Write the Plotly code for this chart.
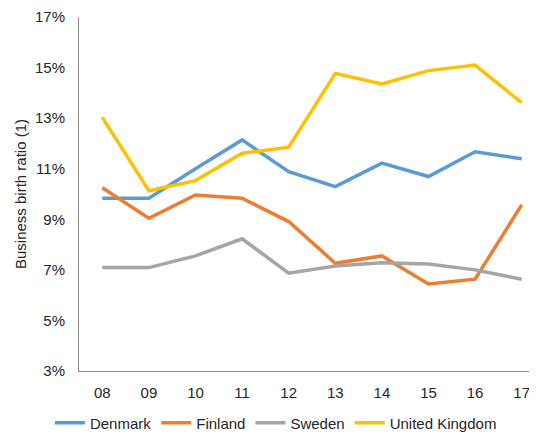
import plotly.graph_objects as go

years = ["08", "09", "10", "11", "12", "13", "14", "15", "16", "17"]
denmark = [9.83, 9.83, 11.0, 12.14, 10.88, 10.29, 11.22, 10.69, 11.67, 11.39]
finland = [10.25, 9.04, 9.96, 9.83, 8.91, 7.26, 7.55, 6.44, 6.63, 9.57]
sweden = [7.09, 7.09, 7.55, 8.23, 6.87, 7.15, 7.28, 7.23, 7.0, 6.63]
uk = [13.03, 10.13, 10.53, 11.61, 11.85, 14.77, 14.35, 14.88, 15.10, 13.61]

series = [
    ("Denmark", denmark, "#5B9BD5"),
    ("Finland", finland, "#ED7D31"),
    ("Sweden", sweden, "#A5A5A5"),
    ("United Kingdom", uk, "#FFC000"),
]

fig = go.Figure()
for name, vals, color in series:
    fig.add_trace(go.Scatter(
        x=years, y=vals, name=name, mode="lines",
        line=dict(color=color, width=3.5),
    ))

# page body adds an 8px offset, margins below account for it
axis_font = dict(family="Liberation Sans, Arial", size=15, color="#262626")
fig.update_layout(
    width=537, height=435,
    margin=dict(l=71, r=0, t=9, b=72),
    plot_bgcolor="white", paper_bgcolor="white",
    font=axis_font,
    showlegend=True,
    legend=dict(
        orientation="h", xref="container", yref="container",
        x=0.078, xanchor="left", y=0.084, yanchor="top",
        font=axis_font, tracegroupgap=0,
    ),
    xaxis=dict(
        type="category", range=[-0.5, 9.5], automargin=False,
        showgrid=False, showline=True, linecolor="#8c8c8c", linewidth=1,
        ticks="outside", ticklen=8, tickcolor="rgba(0,0,0,0)",
        fixedrange=True,
    ),
    yaxis=dict(
        range=[3, 17], tick0=3, dtick=2, ticksuffix="%", automargin=False,
        showgrid=False, showline=True, linecolor="#8c8c8c", linewidth=1,
        zeroline=False,
        ticks="outside", ticklen=10, tickcolor="rgba(0,0,0,0)",
        title=dict(text="Business birth ratio (1)", standoff=4, font=axis_font),
    ),
)

fig.write_html("out.html")
